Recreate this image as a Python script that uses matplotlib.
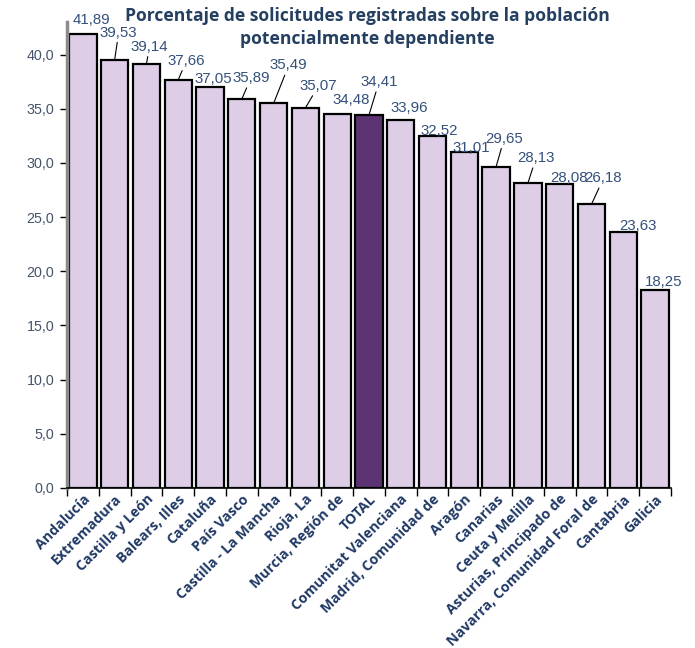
import matplotlib
matplotlib.use("Agg")
import matplotlib.pyplot as plt
import numpy as np

regiones = ["Andalucía", "Extremadura", "Castilla y León", "Balears, Illes", "Cataluña",
            "País Vasco", "Castilla - La Mancha", "Rioja, La", "Murcia, Región de", "TOTAL",
            "Comunitat Valenciana", "Madrid, Comunidad de", "Aragón", "Canarias",
            "Ceuta y Melilla", "Asturias, Principado de", "Navarra, Comunidad Foral de",
            "Cantabria", "Galicia"]
porcentajes = [41.89, 39.53, 39.14, 37.66, 37.05, 35.89, 35.49, 35.07, 34.48, 34.41,
               33.96, 32.52, 31.01, 29.65, 28.13, 28.08, 26.18, 23.63, 18.25]
y_ticks = [0, 5, 10, 15, 20, 25, 30, 35, 40]
titulo = ["Porcentaje de solicitudes registradas sobre la población",
          "potencialmente dependiente"]

# label offsets (pixels) from bar top centre, and whether a leader line is drawn
offsets = [(9, 14), (4, 27), (3, 17), (8, 19), (3, 8), (9, 21), (15, 38), (13, 22),
           (14, 14), (10, 33), (8, 12), (7, 5), (7, 4), (8, 28), (8, 25), (9, 6),
           (12, 26), (15, 6), (9, 8)]
leader = [False, True, True, True, False, True, True, True, False, True, False,
          False, False, True, True, False, True, False, False]

fig = plt.figure(figsize=(6.95, 6.48), dpi=100)
ax = fig.add_axes([0.0964, 0.247, 0.869, 0.719])

x = np.arange(len(regiones))
colors = ["#5B3372" if r == "TOTAL" else "#DDCDE7" for r in regiones]
ax.bar(x, porcentajes, width=0.86, color=colors, edgecolor="black", linewidth=1.6, zorder=2)

for i, v in enumerate(porcentajes):
    dx, dy = offsets[i]
    txt = f"{v:.2f}".replace(".", ",")
    props = None
    if leader[i]:
        props = dict(arrowstyle="-", color="black", lw=0.8, shrinkA=0, shrinkB=0)
    ax.annotate(txt, xy=(i, v), xytext=(dx, dy), textcoords="offset pixels",
                ha="center", va="center", fontsize=10.8, color="#34507A",
                fontfamily="Liberation Sans", arrowprops=props)

ax.set_xlim(-0.5, len(regiones) - 0.5)
ax.set_ylim(0, 43)
ax.set_yticks(y_ticks)
ax.set_yticklabels([f"{t:.1f}".replace(".", ",") for t in y_ticks],
                   fontsize=10.3, color="#44546A", fontfamily="Liberation Sans")

ax.set_xticks(x)
ax.set_xticklabels(regiones, rotation=45, ha="right", rotation_mode="anchor",
                   fontsize=10.2, fontweight="bold", color="#1F3864", fontfamily="Open Sans")
ax.tick_params(axis="x", length=0, pad=3)
ax.set_xticks(np.arange(-0.5, len(regiones)), minor=True)
ax.tick_params(axis="x", which="minor", length=6, width=1, color="black")
ax.tick_params(axis="y", length=5, width=1, color="black", pad=4)

for s in ["top", "right"]:
    ax.spines[s].set_visible(False)
ax.spines["left"].set_color("#8C8C8C")
ax.spines["left"].set_linewidth(2.5)
ax.spines["bottom"].set_color("black")
ax.spines["bottom"].set_linewidth(1.2)

for k, linea in enumerate(titulo):
    fig.text(0.528, 0.975 - k * 0.035, linea, ha="center", va="center", fontsize=12.6,
             fontweight="bold", color="#243F60", fontfamily="Open Sans")

fig.savefig("out.png", dpi=100)
